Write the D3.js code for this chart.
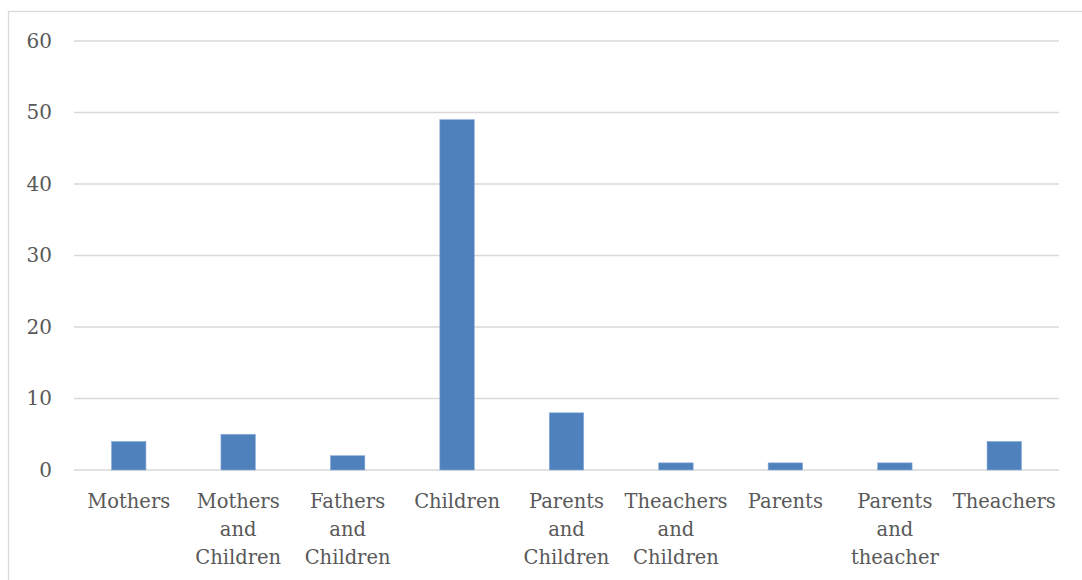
<!DOCTYPE html>
<html>
<head>
    <meta charset="utf-8">
    <title>Bar chart</title>
    <style>
        html, body {
            margin: 0;
            padding: 0;
            background: #ffffff;
        }
        #chart {
            width: 1082px;
            height: 580px;
        }
        .tick text {
            font-family: 'DejaVu Serif', serif;
            fill: #595959;
        }
    </style>
</head>
<body>
    <div id="chart"></div>

    <script src="https://cdnjs.cloudflare.com/ajax/libs/d3/7.6.1/d3.min.js"></script>
    <script>
        const categories = [
            ['Mothers'],
            ['Mothers', 'and', 'Children'],
            ['Fathers', 'and', 'Children'],
            ['Children'],
            ['Parents', 'and', 'Children'],
            ['Theachers', 'and', 'Children'],
            ['Parents'],
            ['Parents', 'and', 'theacher'],
            ['Theachers']
        ];
        const values = [4, 5, 2, 49, 8, 1, 1, 1, 4];
        const yTicks = [0, 10, 20, 30, 40, 50, 60];

        const width = 1082, height = 580;
        const plotLeft = 74, plotRight = 1059, plotTop = 41, plotBottom = 470;

        const svg = d3.select('#chart')
            .append('svg')
            .attr('width', width)
            .attr('height', height);

        // outer chart border (runs off the right and bottom edges)
        svg.append('rect')
            .attr('x', 8.5)
            .attr('y', 11.5)
            .attr('width', 1090)
            .attr('height', 600)
            .attr('fill', 'none')
            .attr('stroke', '#d9d9d9')
            .attr('stroke-width', 1.3);

        const xScale = d3.scaleBand()
            .domain(d3.range(categories.length))
            .range([plotLeft, plotRight]);

        const yScale = d3.scaleLinear()
            .domain([0, 60])
            .range([plotBottom, plotTop]);

        // gridlines
        svg.append('g')
            .selectAll('line')
            .data(yTicks)
            .enter()
            .append('line')
            .attr('x1', plotLeft)
            .attr('x2', plotRight)
            .attr('y1', d => yScale(d))
            .attr('y2', d => yScale(d))
            .attr('stroke', '#d9d9d9')
            .attr('stroke-width', 1.4);

        const barWidth = xScale.bandwidth() * 0.315;

        svg.append('g')
            .selectAll('rect')
            .data(values)
            .enter()
            .append('rect')
            .attr('x', (d, i) => xScale(i) + (xScale.bandwidth() - barWidth) / 2)
            .attr('y', d => yScale(d))
            .attr('width', barWidth)
            .attr('height', d => yScale(0) - yScale(d))
            .attr('fill', '#4f81bd')
            .attr('stroke', '#8eaedb')
            .attr('stroke-width', 0.6);

        const yAxis = d3.axisLeft(yScale)
            .tickValues(yTicks)
            .tickSize(0)
            .tickPadding(22);

        svg.append('g')
            .attr('transform', 'translate(' + plotLeft + ',0)')
            .call(yAxis)
            .call(g => g.select('.domain').remove())
            .selectAll('text')
            .style('font-size', '20px');

        const xAxis = d3.axisBottom(xScale)
            .tickSize(0)
            .tickFormat('');

        const xg = svg.append('g')
            .attr('transform', 'translate(0,' + plotBottom + ')')
            .call(xAxis);
        xg.select('.domain').remove();

        xg.selectAll('.tick text')
            .style('font-size', '19.5px')
            .attr('text-anchor', 'middle')
            .each(function (d) {
                const t = d3.select(this).attr('y', 0).attr('dy', 0);
                categories[d].forEach((w, k) => {
                    t.append('tspan')
                        .attr('x', 0)
                        .attr('y', 38 + k * 28)
                        .text(w);
                });
            });
    </script>
</body>
</html>
